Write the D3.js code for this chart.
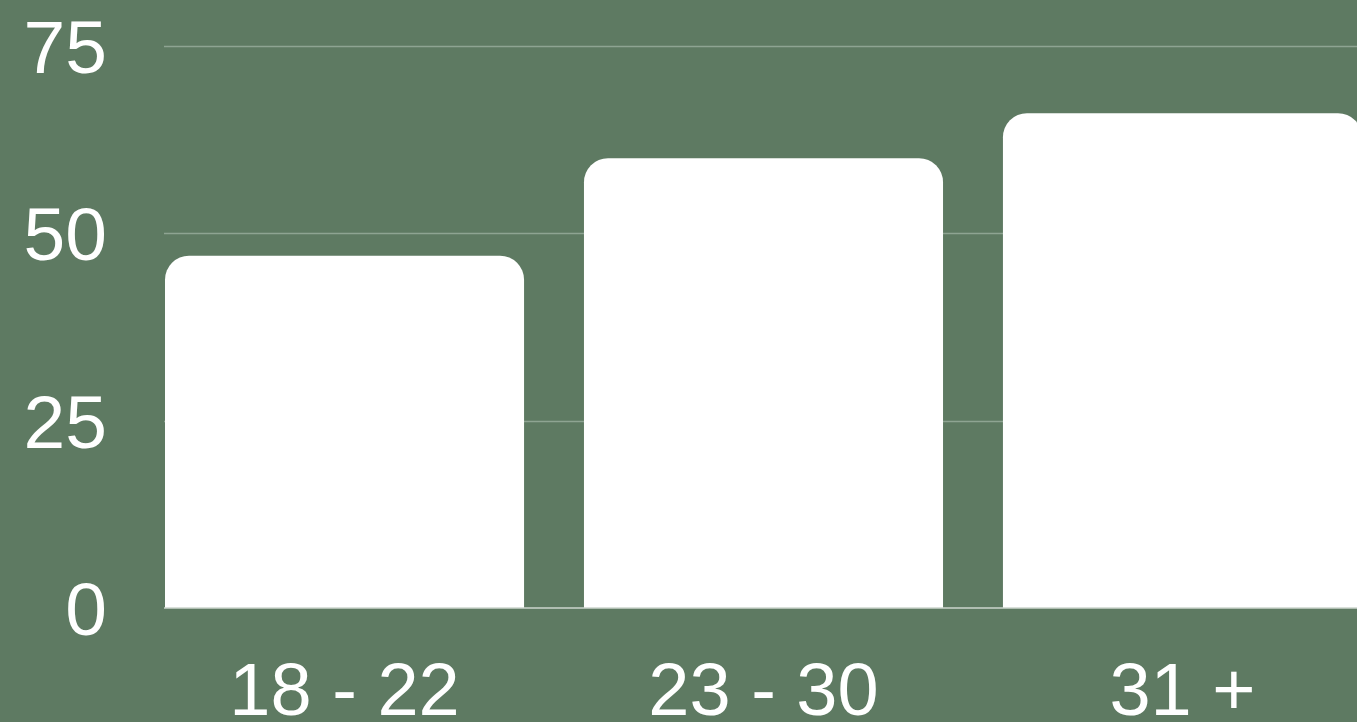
<!DOCTYPE html>
<html>
<head>
<meta charset="utf-8">
<script src="https://cdn.jsdelivr.net/npm/d3@7"></script>
<style>
  html, body { margin: 0; padding: 0; background: #5e7a62; overflow: hidden; }
  svg { display: block; }
</style>
</head>
<body>
<div id="chart"></div>
<script>
// data
var ageGroups = ["18 - 22", "23 - 30", "31 +"];
var values = [47, 60, 66];
var yTicks = [0, 25, 50, 75];

var WD = 1357, HT = 722;
var bg = "#5e7a62";

var x = d3.scaleBand()
    .domain(ageGroups)
    .range([165, 1362])
    .paddingInner(0.143)
    .paddingOuter(0);

var y = d3.scaleLinear()
    .domain([0, 75])
    .range([608, 45.7]);

var svg = d3.select("#chart")
  .append("svg")
    .attr("width", WD)
    .attr("height", HT);

svg.append("rect")
    .attr("width", WD)
    .attr("height", HT)
    .attr("fill", bg);

// gridlines
svg.append("g")
  .selectAll("line")
  .data(yTicks.filter(function(d){ return d > 0; }))
  .enter().append("line")
    .attr("x1", 164)
    .attr("x2", WD)
    .attr("y1", function(d){ return Math.round(y(d)) + 0.5; })
    .attr("y2", function(d){ return Math.round(y(d)) + 0.5; })
    .attr("stroke", "#8ea492")
    .attr("stroke-width", 1.5);

// bar with rounded top corners
function topRounded(x0, y0, w, h, r) {
  r = Math.min(r, w / 2, h);
  return "M" + x0 + "," + (y0 + h) +
    "V" + (y0 + r) +
    "A" + r + "," + r + " 0 0 1 " + (x0 + r) + "," + y0 +
    "H" + (x0 + w - r) +
    "A" + r + "," + r + " 0 0 1 " + (x0 + w) + "," + (y0 + r) +
    "V" + (y0 + h) + "Z";
}

svg.append("g")
  .selectAll("path")
  .data(values)
  .enter().append("path")
    .attr("d", function(d, i){
      var top = y(d);
      return topRounded(x(ageGroups[i]), top, x.bandwidth(), y(0) - top, 24);
    })
    .attr("fill", "#ffffff");

// baseline
svg.append("line")
    .attr("x1", 164)
    .attr("x2", WD)
    .attr("y1", y(0))
    .attr("y2", y(0))
    .attr("stroke", "#cdd6ce")
    .attr("stroke-width", 1.5);

// y labels
svg.append("g")
  .selectAll("text")
  .data(yTicks)
  .enter().append("text")
    .attr("x", 107)
    .attr("y", function(d){ return y(d); })
    .attr("dy", "0.36em")
    .attr("text-anchor", "end")
    .attr("font-family", "'Liberation Sans', Arial, sans-serif")
    .attr("font-size", 75)
    .attr("fill", "#ffffff")
    .text(function(d){ return d; });

// x labels
svg.append("g")
  .selectAll("text")
  .data(ageGroups)
  .enter().append("text")
    .attr("x", function(d){ return x(d) + x.bandwidth() / 2; })
    .attr("y", 715)
    .attr("text-anchor", "middle")
    .attr("font-family", "'Liberation Sans', Arial, sans-serif")
    .attr("font-size", 74)
    .attr("fill", "#ffffff")
    .text(function(d){ return d; });
</script>
</body>
</html>
